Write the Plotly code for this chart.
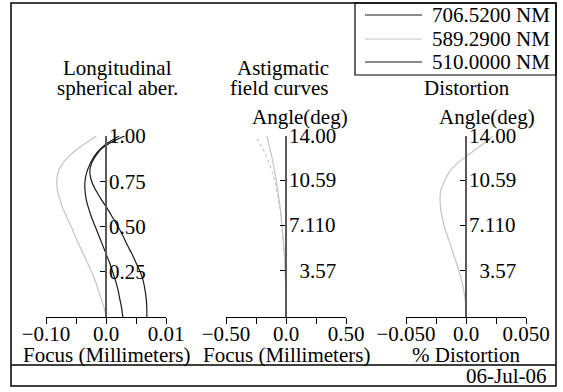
import plotly.graph_objects as go

W, H = 563, 392
FONT = "Liberation Serif"
FS = 21

# ---------------- data ----------------
# Longitudinal spherical aberration (relative pupil height vs focus shift, mm)
pupil = [0, 0.05, 0.1, 0.15, 0.2, 0.25, 0.3, 0.35, 0.4, 0.45, 0.5, 0.55, 0.6, 0.65,
         0.7, 0.75, 0.8, 0.85, 0.9, 0.93, 0.96, 1.0]
lsa_706 = [0.028, 0.026, 0.023, 0.020, 0.016, 0.011, 0.006, 0.000, -0.006, -0.012, -0.018, -0.024,
           -0.029, -0.033, -0.035, -0.035, -0.032, -0.026, -0.017, -0.009, 0.002, 0.022]
lsa_589 = [0, -0.003, -0.008, -0.013, -0.018, -0.024, -0.031, -0.038, -0.045, -0.052, -0.058, -0.065,
           -0.072, -0.077, -0.081, -0.082, -0.080, -0.072, -0.058, -0.047, -0.034, -0.016]
lsa_510 = [0.068, 0.068, 0.067, 0.065, 0.062, 0.057, 0.050, 0.043, 0.035, 0.028, 0.020, 0.011,
           0.002, -0.008, -0.017, -0.024, -0.027, -0.024, -0.015, -0.007, 0.006, 0.031]

# Astigmatic field curves (field angle in deg vs focus, mm)
field_angle = [0, 1.4, 2.8, 4.2, 5.6, 7.0, 8.4, 9.8, 11.2, 12.6, 14.0]
tan_589 = [0, -0.001, -0.004, -0.010, -0.020, -0.033, -0.048, -0.068, -0.093, -0.123, -0.160]
sag_589 = [0, -0.001, -0.004, -0.010, -0.020, -0.034, -0.050, -0.078, -0.115, -0.170, -0.255]

# Distortion (field angle in deg vs % distortion)
dist_angle = [0, 1.4, 2.8, 4.2, 5.6, 7.0, 8.4, 9.8, 11.2, 12.0, 12.6, 13.3, 14.0]
dist_589 = [0, -0.0008, -0.0035, -0.008, -0.013, -0.018, -0.0212, -0.021, -0.014, -0.006, 0.003, 0.013, 0.0225]

# legend
wavelengths = ["706.5200 NM", "589.2900 NM", "510.0000 NM"]
wl_colors = ["#1a1a1a", "#c4c4c4", "#1a1a1a"]

# ticks
lsa_xticks = [-0.1, -0.05, 0, 0.05, 0.1]
lsa_xtext = ["\u22120.10", "", "0.0", "", "0.01"]
lsa_yticks = [0.25, 0.5, 0.75, 1.0]
lsa_ytext = ["0.25", "0.50", "0.75", "1.00"]

fc_xticks = [-0.5, -0.25, 0, 0.25, 0.5]
fc_xtext = ["\u22120.50", "", "0.0", "", "0.50"]
ang_yticks = [3.57, 7.11, 10.59, 14.0]
ang_ytext = ["\u20023.57", "7.110", "10.59", "14.00"]

dst_xticks = [-0.05, -0.025, 0, 0.025, 0.05]
dst_xtext = ["\u22120.050", "", "0.0", "", "0.050"]

x_titles = ["Focus (Millimeters)", "Focus (Millimeters)", "% Distortion"]
date_text = "06-Jul-06"

# ---------------- figure ----------------
def px(x):
    return x / W

def py(y):
    return 1 - y / H

fig = go.Figure()

def line_trace(x, y, xa, ya, color, dash="solid"):
    fig.add_trace(go.Scatter(
        x=x, y=y, xaxis=xa, yaxis=ya, mode="lines", cliponaxis=False,
        line=dict(color=color, width=1.2, dash=dash, shape="spline", smoothing=0.6),
        showlegend=False, hoverinfo="skip"))

line_trace(lsa_589, pupil, "x", "y", wl_colors[1])
line_trace(lsa_706, pupil, "x", "y", wl_colors[0])
line_trace(lsa_510, pupil, "x", "y", wl_colors[2])

line_trace(tan_589, field_angle, "x2", "y2", wl_colors[1])
line_trace(sag_589, field_angle, "x2", "y2", wl_colors[1], dash="dot")

line_trace(dist_589, dist_angle, "x3", "y3", wl_colors[1])

tickfont = dict(family=FONT, size=FS, color="black")

def xax(left, right, rng, tv, tt, anchor):
    return dict(domain=[px(left), px(right)], range=rng, anchor=anchor,
                showline=True, linecolor="black", linewidth=1,
                ticks="outside", ticklen=6, tickwidth=1, tickcolor="black",
                tickvals=tv, ticktext=tt, tickfont=tickfont, ticklabelstandoff=-8,
                showgrid=False, zeroline=False, fixedrange=True, automargin=False)

def yax(xpos, rng, tv, tt):
    return dict(domain=[py(317), py(136)], range=rng, anchor="free",
                position=px(xpos), side="right",
                showline=True, linecolor="#5a5a5a", linewidth=1.5,
                ticks="inside", ticklen=5, tickwidth=1, tickcolor="black",
                tickvals=tv, ticktext=tt, tickfont=tickfont, ticklabelstandoff=-2,
                showgrid=False, zeroline=False, fixedrange=True, automargin=False)

fig.update_layout(
    width=W, height=H, margin=dict(l=0, r=0, t=0, b=0),
    template="none", paper_bgcolor="white", plot_bgcolor="rgba(0,0,0,0)",
    font=dict(family=FONT, size=FS, color="black"),
    showlegend=False,
    xaxis=xax(46, 166, [-0.1, 0.1], lsa_xticks, lsa_xtext, "y"),
    yaxis=yax(106, [0, 1], lsa_yticks, lsa_ytext),
    xaxis2=xax(226, 346, [-0.5, 0.5], fc_xticks, fc_xtext, "y2"),
    yaxis2=yax(286, [0, 14], ang_yticks, ang_ytext),
    xaxis3=xax(406, 526, [-0.05, 0.05], dst_xticks, dst_xtext, "y3"),
    yaxis3=yax(466, [0, 14], ang_yticks, ang_ytext),
)

shapes = []
# outer frame
shapes.append(dict(type="rect", xref="paper", yref="paper", x0=px(11), x1=px(556), y0=py(386), y1=py(3),
                   line=dict(color="black", width=1.5)))
# date divider
shapes.append(dict(type="line", xref="paper", yref="paper", x0=px(11), x1=px(556), y0=py(365), y1=py(365),
                   line=dict(color="black", width=1.5)))
# legend box
shapes.append(dict(type="rect", xref="paper", yref="paper", x0=px(355), x1=px(556), y0=py(75), y1=py(3),
                   line=dict(color="black", width=1.2)))

annotations = []
leg_y = [15, 39, 62]
for name, col, yy in zip(wavelengths, wl_colors, leg_y):
    shapes.append(dict(type="line", xref="paper", yref="paper", x0=px(365), x1=px(422), y0=py(yy), y1=py(yy),
                       line=dict(color=col, width=1.2)))
    annotations.append(dict(text=name, x=px(552), y=py(yy), xref="paper", yref="paper",
                            xanchor="right", yanchor="middle", showarrow=False,
                            font=dict(family=FONT, size=FS, color="black")))

def label(text, x, y, xanchor="center"):
    annotations.append(dict(text=text, x=px(x), y=py(y), xref="paper", yref="paper",
                            xanchor=xanchor, yanchor="middle", showarrow=False,
                            font=dict(family=FONT, size=FS, color="black")))

label("Longitudinal", 117, 68)
label("spherical aber.", 117, 88)
label("Astigmatic", 283, 68)
label("field curves", 279, 88)
label("Distortion", 467, 88)
label("Angle(deg)", 300, 117)
label("Angle(deg)", 487, 117)
for xc, t in zip([106, 286, 466], x_titles):
    label(t, xc, 355)
label(date_text, 549, 376, xanchor="right")

fig.update_layout(shapes=shapes, annotations=annotations)

fig.write_html("out.html")
